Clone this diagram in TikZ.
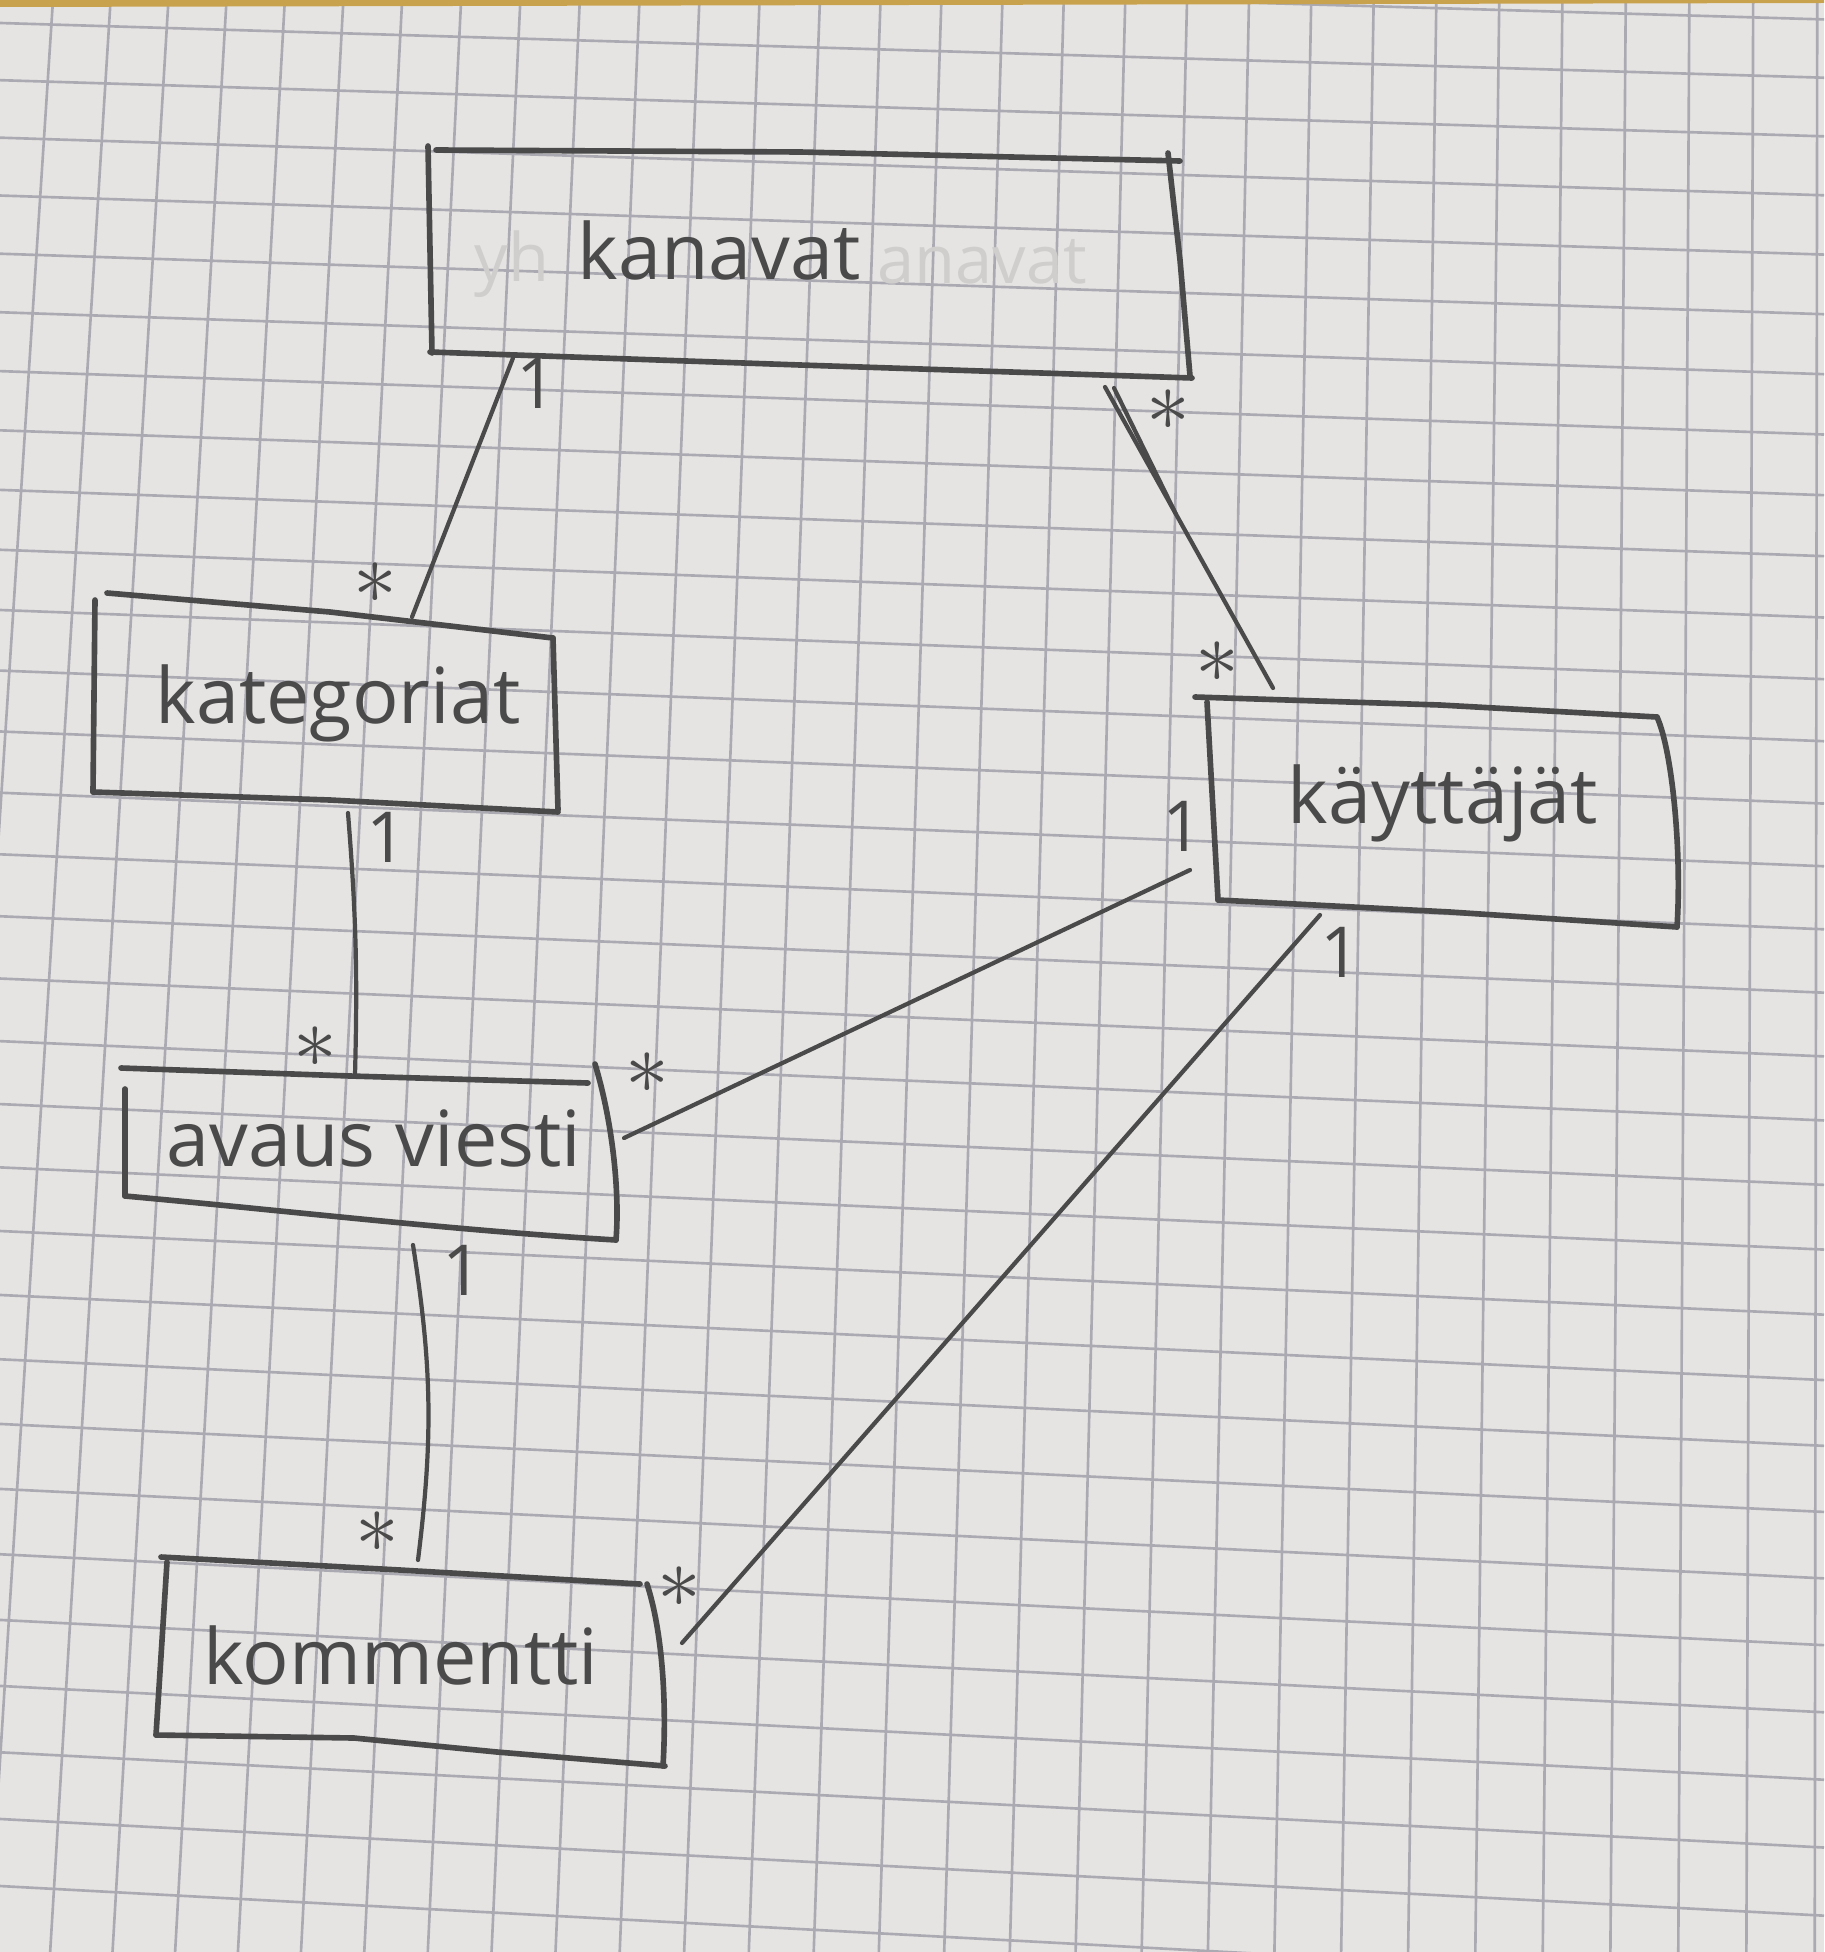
\documentclass[tikz,border=0pt]{standalone}
\usepackage{fontspec}
\setmainfont{Open Sans}
\usetikzlibrary{calc}
\definecolor{paper}{HTML}{E6E4E2}
\definecolor{gridgray}{HTML}{ABAAB2}
\definecolor{pencil}{HTML}{4A4A4A}
\definecolor{ghost}{HTML}{D0CECD}
\definecolor{tape}{HTML}{C9A24E}

\begin{document}
\begin{tikzpicture}[
    x=0.01cm, y=-0.01cm,
    gridline/.style={gridgray, line width=0.75pt},
    boxline/.style={pencil, line width=1.6pt, line cap=round, line join=round},
    assocline/.style={pencil, line width=1.2pt, line cap=round},
    classlabel/.style={font=\fontsize{22}{26}\selectfont, text=pencil, inner sep=0pt, anchor=base},
    ghostlabel/.style={font=\fontsize{19}{23}\selectfont, text=ghost, inner sep=0pt, anchor=base},
    onelabel/.style={font=\fontsize{20}{24}\selectfont, text=pencil, inner sep=0pt},
    manylabel/.style={font=\fontsize{30}{34}\selectfont, text=pencil, inner sep=0pt}
]

\def\paperw{1824}   % paper width
\def\paperh{1952}   % paper height

% paper + grid
\useasboundingbox (0,0) rectangle (\paperw,\paperh);
\fill[paper] (0,0) rectangle (\paperw,\paperh);
\begin{scope}
\clip (0,0) rectangle (\paperw,\paperh);
\foreach \gi in {0,...,31}
    \draw[gridline] ({53+57.5*\gi+0.115*\gi*\gi},0)
        -- ({53+57.5*\gi+0.115*\gi*\gi+(-0.065+0.0022*\gi)*1952},1952);
\foreach \gj in {-1,...,31}
    \draw[gridline] (0,{23+57*\gj+0.17*\gj*\gj})
        -- (1824,{23+57*\gj+0.17*\gj*\gj+(0.03+0.0008*\gj)*1824});
\fill[tape] (0,0) -- (\paperw,0) -- (\paperw,3) -- (0,7) -- cycle;
\end{scope}

% luokat (laatikot)
\draw[boxline] (436,150) -- (800,152) -- (1180,161);
\draw[boxline] (1168,153) -- (1180,260) -- (1190,376);
\draw[boxline] (430,352) -- (800,365) -- (1192,378);
\draw[boxline] (428,146) -- (432,353);

\draw[boxline] (107,593) -- (330,612) -- (553,638);
\draw[boxline] (95,600) -- (93,792);
\draw[boxline] (93,792) -- (330,800) -- (558,812);
\draw[boxline] (553,638) -- (558,810);

\draw[boxline] (1195,697) -- (1440,705) -- (1657,717);
\draw[boxline] (1207,702) -- (1218,900);
\draw[boxline] (1218,900) -- (1450,912) -- (1677,927);
\draw[boxline] (1657,717) .. controls (1672,750) and (1682,850) .. (1677,927);

\draw[boxline] (121,1068) -- (350,1076) -- (588,1083);
\draw[boxline] (125,1089) -- (125,1196);
\draw[boxline] (125,1196) .. controls (300,1212) and (450,1230) .. (616,1240);
\draw[boxline] (595,1064) .. controls (612,1120) and (620,1190) .. (616,1240);

\draw[boxline] (161,1557) -- (400,1570) -- (640,1584);
\draw[boxline] (167,1562) -- (156,1735);
\draw[boxline] (156,1735) -- (354,1738) -- (497,1752) -- (665,1766);
\draw[boxline] (647,1584) .. controls (662,1630) and (667,1700) .. (663,1766);

% nimet
\node[ghostlabel] (ghostyh) at (512,282) {yh};
\node[ghostlabel] (ghostkan) at (982,284) {anavat};
\node[classlabel] (kanavat) at (719,280) {kanavat};
\node[classlabel] (kategoriat) at (338,723) {kategoriat};
\node[classlabel] (kayttajat) at (1443,823) {käyttäjät};
\node[classlabel] (avausviesti) at (374,1166) {avaus viesti};
\node[classlabel] (kommentti) at (401,1684) {kommentti};

% yhteyksien päät
\coordinate (kan-kat) at (513,358);
\coordinate (kat-kan) at (412,617);
\coordinate (kan-kay) at (1105,387);
\coordinate (kay-kan) at (1273,688);
\coordinate (kat-ava) at (348,813);
\coordinate (ava-kat) at (355,1075);
\coordinate (kay-ava) at (1190,870);
\coordinate (ava-kay) at (624,1138);
\coordinate (ava-kom) at (413,1245);
\coordinate (kom-ava) at (418,1560);
\coordinate (kay-kom) at (1320,915);
\coordinate (kom-kay) at (682,1643);

% yhteydet
\draw[assocline] (kan-kat) -- (kat-kan);
\draw[assocline] (kan-kay) -- (kay-kan);
\draw[assocline] ($(kan-kay)+(9,1)$) -- ($(kan-kay)!0.42!(kay-kan)$);
\draw[assocline] (kat-ava) to[bend left=3] (ava-kat);
\draw[assocline] (kay-ava) -- (ava-kay);
\draw[assocline] (ava-kom) to[bend left=8] (kom-ava);
\draw[assocline] (kay-kom) -- (kom-kay);

% kertoimet
\node[onelabel] (m1) at (537,383) {1};
\node[manylabel] (m2) at (375,583) {$\ast$};
\node[manylabel] (m3) at (1168,410) {$\ast$};
\node[manylabel] (m4) at (1217,662) {$\ast$};
\node[onelabel] (m5) at (387,837) {1};
\node[manylabel] (m6) at (315,1047) {$\ast$};
\node[onelabel] (m7) at (1183,826) {1};
\node[manylabel] (m8) at (647,1073) {$\ast$};
\node[onelabel] (m9) at (463,1270) {1};
\node[manylabel] (m10) at (377,1532) {$\ast$};
\node[onelabel] (m11) at (1341,952) {1};
\node[manylabel] (m12) at (679,1587) {$\ast$};

\end{tikzpicture}
\end{document}
